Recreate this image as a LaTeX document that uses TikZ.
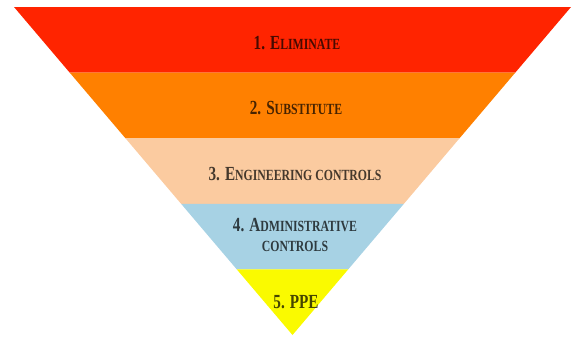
\documentclass[tikz,border=0pt]{standalone}
\usepackage{fontspec}
\usepackage{xcolor}
\usepackage{tikz}
\usetikzlibrary{calc}
\newfontfamily\hazfont[FakeStretch=0.76]{Liberation Serif}

\definecolor{elimred}{RGB}{255,36,0}
\definecolor{substorange}{RGB}{255,128,0}
\definecolor{engpeach}{RGB}{251,203,160}
\definecolor{adminblue}{RGB}{167,210,228}
\definecolor{ppeyellow}{RGB}{250,250,0}

\newcommand{\smc}[1]{{\fontsize{15.5}{18}\selectfont #1}}

\begin{document}
\begin{tikzpicture}[x=1pt, y=-1pt]
    \tikzstyle{hazlabel}=[text=black, text opacity=0.72, align=center,
      font=\hazfont\bfseries\fontsize{20}{21}\selectfont, inner sep=0pt]
    \useasboundingbox (0,0) rectangle (578,338);
    \coordinate (TL) at (14,7);
    \coordinate (TR) at (571,7);
    \coordinate (A) at (292.5,335);
    % bands of the inverted triangle
    \fill[elimred] (TL) -- (TR) -- ($(TR)!0.2!(A)$) -- ($(TL)!0.2!(A)$) -- cycle;
    \fill[substorange] ($(TL)!0.2!(A)$) -- ($(TR)!0.2!(A)$)
      -- ($(TR)!0.4!(A)$) -- ($(TL)!0.4!(A)$) -- cycle;
    \fill[engpeach] ($(TL)!0.4!(A)$) -- ($(TR)!0.4!(A)$)
      -- ($(TR)!0.6!(A)$) -- ($(TL)!0.6!(A)$) -- cycle;
    \fill[adminblue] ($(TL)!0.6!(A)$) -- ($(TR)!0.6!(A)$)
      -- ($(TR)!0.8!(A)$) -- ($(TL)!0.8!(A)$) -- cycle;
    \fill[ppeyellow] ($(TL)!0.8!(A)$) -- ($(TR)!0.8!(A)$) -- (A) -- cycle;
    % labels
    \node[hazlabel] (elim) at (297,43) {1. E\smc{LIMINATE}};
    \node[hazlabel] (subst) at (296,108) {2. S\smc{UBSTITUTE}};
    \node[hazlabel] (eng) at (295,174) {3. E\smc{NGINEERING CONTROLS}};
    \node[hazlabel] (admin) at (295,235) {4. A\smc{DMINISTRATIVE}\\[-1pt]\smc{CONTROLS}};
    \node[hazlabel] (ppe) at (296,302) {5. PPE};
\end{tikzpicture}
\end{document}
